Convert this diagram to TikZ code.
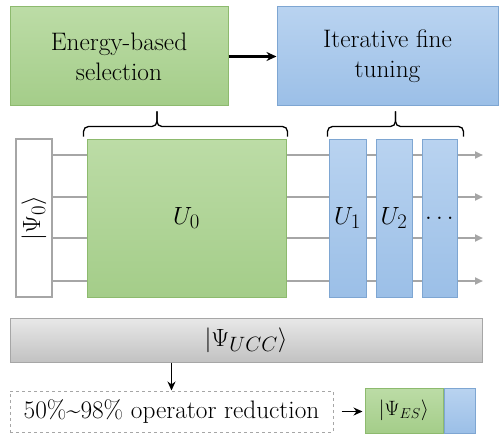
\documentclass[tikz,border=0pt]{standalone}
\usepackage[no-math]{fontspec}
\usetikzlibrary{positioning, arrows.meta, calc}
\newcommand*{\pxUnit}{1pt}
\newcommand*{\txtSize}{\rmfamily\fontsize{25.3}{30}\selectfont}
\newcommand*{\mathSize}{\fontsize{24.88}{28}\selectfont}
\newcommand*{\smallMath}{\fontsize{20.74}{25}\selectfont}
\definecolor{greenTop}{HTML}{BCDCA6}
\definecolor{greenBot}{HTML}{A4CD89}
\definecolor{greenLine}{HTML}{8DBA6E}
\definecolor{blueTop}{HTML}{B9D3F0}
\definecolor{blueBot}{HTML}{9BBFE7}
\definecolor{blueLine}{HTML}{7EA6D2}
\definecolor{grayTop}{HTML}{E8E8E8}
\definecolor{grayBot}{HTML}{C2C2C2}
\definecolor{grayLine}{HTML}{A6A6A6}
\tikzset{
  box/.style={rectangle, inner sep=0pt, align=center, line width=1pt, font=\txtSize},
  greenbox/.style={box, draw=greenLine, top color=greenTop, bottom color=greenBot},
  bluebox/.style={box, draw=blueLine, top color=blueTop, bottom color=blueBot},
  graybox/.style={box, draw=grayLine, top color=grayTop, bottom color=grayBot},
  wire/.style={grayLine, line width=2pt, -{Triangle[length=8pt, width=7pt]}},
  bigarrow/.style={line width=2.5pt, -{Stealth[length=10pt, width=9pt]}},
  thinarrow/.style={line width=1.3pt, -{Stealth[length=9pt, width=8pt]}},
  bracketline/.style={line width=1.3pt, rounded corners=5pt}
}
% gate: name, x centre, width, label
\newcommand*{\gateBox}[4]{\node[bluebox, minimum width=#3pt, minimum height=158pt, font=\mathSize] (#1) at (#2,218) {#4};}
% curly bracket: left end, right end, position of the tip (0..1)
\newcommand*{\bracket}[3]{%
  \coordinate (tip) at ($(#1)!#3!(#2) + (0,-25)$);
  \draw[bracketline] (#1) |- ($(tip) + (0,15)$) -- (tip);
  \draw[bracketline] (#2) |- ($(tip) + (0,15)$) -- (tip);
}

\begin{document}
\begin{tikzpicture}[x=\pxUnit, y=-\pxUnit]
\useasboundingbox (0,0) rectangle (500,441);

% top stages
\node[greenbox, minimum width=218pt, minimum height=99pt] (esel) at (119,56.5) {Energy-based\\selection};
\node[bluebox, minimum width=221pt, minimum height=99pt] (ift) at (387.5,56.5) {Iterative fine\\tuning};
\draw[bigarrow] (esel.east) -- (ift.west);

% circuit
\node[box, draw=grayLine, line width=2pt, fill=white, minimum width=36pt, minimum height=158pt] (psi0) at (34,218) {\mathSize\rotatebox{90}{$|\Psi_0\rangle$}};
\foreach \y in {155,197,238,281} {
  \coordinate (w\y) at (483,\y);
  \draw[wire] (psi0.east |- w\y) -- (w\y);
}
\node[greenbox, minimum width=199pt, minimum height=158pt, font=\mathSize] (U0) at (186.5,218) {$U_0$};
\gateBox{U1}{347.5}{37}{$U_1$}
\gateBox{U2}{394}{36}{$U_2$}
\gateBox{U3}{439.5}{35}{$\ldots$}

\coordinate (b0L) at ([shift={(-3,-2)}]U0.north west);
\coordinate (b0R) at ([shift={(1,-2)}]U0.north east);
\bracket{b0L}{b0R}{0.36}
\coordinate (b1L) at ([shift={(-1,-2)}]U1.north west);
\coordinate (b1R) at ([shift={(6,-2)}]U3.north east);
\bracket{b1L}{b1R}{0.5}

% result
\node[graybox, minimum width=472pt, minimum height=44pt, font=\mathSize] (ucc) at (246,340) {$|\Psi_{UCC}\rangle$};
\node[box, draw=grayLine, dashed, minimum width=323pt, minimum height=41pt] (reduce) at (171.5,411.5) {50\%\textasciitilde98\% operator reduction};
\draw[thinarrow] (reduce.north |- ucc.south) -- (reduce.north);
\node[greenbox, minimum width=78pt, minimum height=45pt, font=\smallMath] (esg) at (404,410.5) {$|\Psi_{ES}\rangle$};
\node[bluebox, minimum width=31pt, minimum height=45pt, right=0pt of esg] (esb) {};
\draw[thinarrow, shorten <=8pt, shorten >=2pt] (reduce.east) -- (reduce.east -| esg.west);
\end{tikzpicture}
\end{document}
